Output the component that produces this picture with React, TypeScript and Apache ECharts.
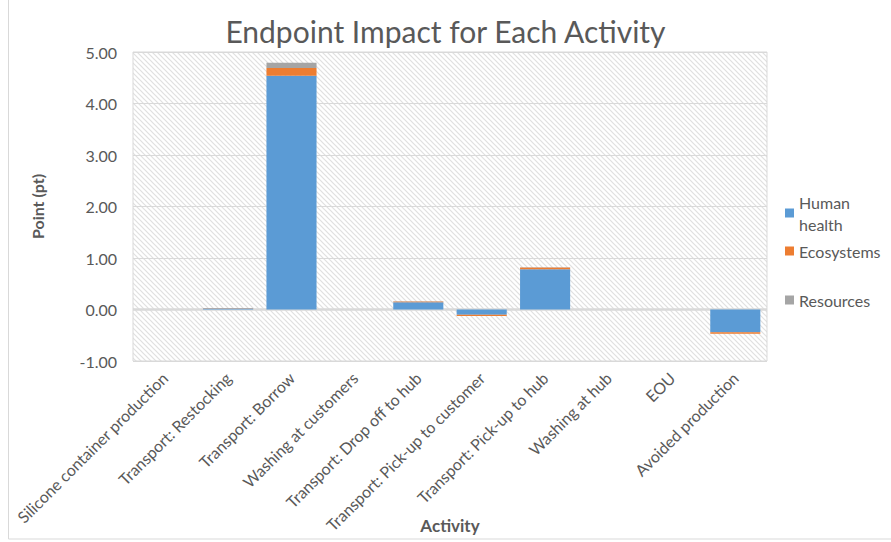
import React, { useEffect, useRef } from "react";
import * as echarts from "echarts";

const categories = [
  "Silicone container production",
  "Transport: Restocking",
  "Transport: Borrow",
  "Washing at customers",
  "Transport: Drop off to hub",
  "Transport: Pick-up to customer",
  "Transport: Pick-up to hub",
  "Washing at hub",
  "EOU",
  "Avoided production",
];
const humanHealth = [0, 0.02, 4.54, 0, 0.14, -0.1, 0.78, 0, 0, -0.44];
const ecosystems = [0, 0.005, 0.15, 0, 0.015, -0.025, 0.035, 0, 0, -0.03];
const resources = [0, 0.003, 0.1, 0, 0.003, -0.003, 0.006, 0, 0, -0.003];
const seriesNames = ["Human health", "Ecosystems", "Resources"];
const colors = ["#5B9BD5", "#ED7D31", "#A5A5A5"];

const FONT = "Lato";
const TEXT = "#595959";

const hatchSvg =
  "<svg xmlns='http://www.w3.org/2000/svg' width='5' height='5'>" +
  "<rect width='5' height='5' fill='#ffffff'/>" +
  "<path d='M-1,-1 L6,6 M-1,4 L1,6 M4,-1 L6,1' stroke='#e0e0e0' stroke-width='1.2'/></svg>";
const hatchUrl = "data:image/svg+xml;charset=utf-8," + encodeURIComponent(hatchSvg);

export default function App() {
  const ref = useRef<HTMLDivElement>(null);
  useEffect(() => {
    if (!ref.current) return;
    const chart = echarts.init(ref.current, undefined, { renderer: "svg" });
    const option = {
      animation: false,
      backgroundColor: "#ffffff",
      title: {
        text: "Endpoint Impact for Each Activity",
        left: "center",
        top: 11,
        textStyle: { fontFamily: FONT, fontSize: 30, fontWeight: "normal", color: TEXT },
      },
      legend: seriesNames.map((n, i) => ({
        data: [n],
        orient: "vertical",
        left: 780,
        top: [186, 235, 284][i],
        itemWidth: 9,
        itemHeight: 9,
        itemGap: 6,
        icon: "rect",
        formatter: (name: string) => (name === "Human health" ? "Human\nhealth" : name),
        textStyle: { fontFamily: FONT, fontSize: 16, color: TEXT, lineHeight: 22 },
      })),
      grid: {
        left: 133,
        right: 124,
        top: 52,
        bottom: 181,
        outerBoundsMode: "none",
        containLabel: false,
        show: true,
        borderColor: "#d9d9d9",
        borderWidth: 1,
        backgroundColor: { image: hatchUrl, repeat: "repeat" },
      },
      xAxis: {
        type: "category",
        data: categories,
        name: "Activity",
        nameLocation: "middle",
        nameGap: 156,
        nameMoveOverlap: false,
        nameTextStyle: {
          fontFamily: FONT,
          fontSize: 17,
          fontWeight: "bold",
          color: TEXT,
          verticalAlign: "top",
        },
        axisLine: { show: false },
        axisTick: { show: false },
        axisLabel: {
          rotate: 45,
          interval: 0,
          margin: 14,
          fontFamily: FONT,
          fontSize: 16,
          color: TEXT,
        },
      },
      yAxis: {
        type: "value",
        min: -1,
        max: 5,
        interval: 1,
        name: "Point (pt)",
        nameLocation: "middle",
        nameGap: 88,
        nameRotate: 90,
        nameMoveOverlap: false,
        nameTextStyle: { fontFamily: FONT, fontSize: 16, fontWeight: "bold", color: TEXT },
        axisLine: { show: false },
        axisTick: { show: false },
        axisLabel: {
          margin: 16,
          fontFamily: FONT,
          fontSize: 16,
          color: TEXT,
          formatter: (v: number) => v.toFixed(2),
        },
        splitLine: { lineStyle: { color: "#d9d9d9", width: 1 } },
      },
      series: [humanHealth, ecosystems, resources].map((d, i) => ({
        name: seriesNames[i],
        type: "bar",
        stack: "total",
        data: d,
        barCategoryGap: "21%",
        itemStyle: { color: colors[i] },
        markLine:
          i === 0
            ? {
                silent: true,
                symbol: "none",
                label: { show: false },
                lineStyle: { color: "#d9d9d9", width: 2.5, type: "solid" },
                data: [{ yAxis: 0 }],
                z: 1,
              }
            : undefined,
      })),
      graphic: [
        {
          type: "rect",
          shape: { x: 8.5, y: -2, width: 900, height: 541 },
          style: { fill: "none", stroke: "#d9d9d9", lineWidth: 1 },
          silent: true,
          z: -1,
        },
      ],
    };
    chart.setOption(option as any);
    return () => chart.dispose();
  }, []);
  return (
    <div
      ref={ref}
      style={{ position: "fixed", left: 0, top: 0, width: 891, height: 542 }}
    />
  );
}
